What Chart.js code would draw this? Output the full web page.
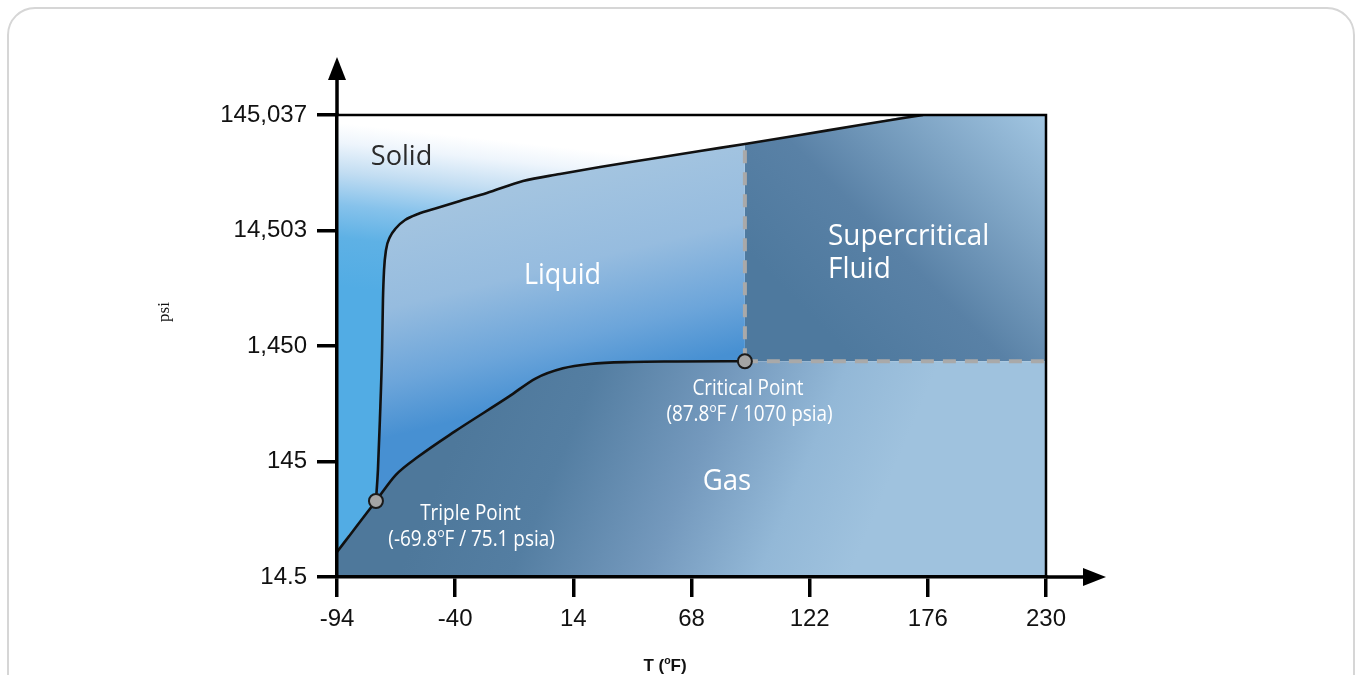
<!DOCTYPE html>
<html><head><meta charset="utf-8">
<script src="https://cdn.jsdelivr.net/npm/chart.js@4.4.1/dist/chart.umd.min.js"></script>
<style>
html,body{margin:0;padding:0;background:#fff;}
#wrap{position:relative;width:1359px;height:675px;overflow:hidden;}
#card{position:absolute;left:7px;top:7px;width:1348px;height:730px;border:2px solid #d6d6d6;border-radius:28px;box-sizing:border-box;}
#c{position:absolute;left:0;top:0;}
</style></head><body>
<div id="wrap"><div id="card"></div><canvas id="c" width="1359" height="675"></canvas></div>
<script>
// ---- axis ticks ----
const xTickValues = [-94, -40, 14, 68, 122, 176, 230];
const xTickLabels = ['-94', '-40', '14', '68', '122', '176', '230'];
const yTickValues = [14.5, 145, 1450, 14503, 145037];
const yTickLabels = ['14.5', '145', '1,450', '14,503', '145,037'];

// ---- phase boundaries (T in °F, P in psia) ----
const sublimationT = [-94, -85.3, -76.2];
const sublimationP = [23.9, 39.3, 66];
const meltingT = [-76.2, -75.3, -74.4, -73.4, -73.0, -72.5, -71.6, -69.8, -67.0, -62.9, -57.0, -48.3, -37.8, -25.5, -9.0, 7.9, 26.2, 49.0, 71.9, 92.4, 117.6, 145.0, 173.8];
const meltingP = [66, 122, 332, 1339, 3628, 6598, 9830, 12740, 15240, 17880, 20160, 22710, 26120, 30630, 38900, 44740, 51430, 60310, 70740, 81340, 97320, 118800, 145037];
const vaporT = [-76.2, -67.1, -56.8, -40.3, -15.5, -3.1, 9.3, 21.6, 40.4, 60.9, 92.4];
const vaporP = [66, 111, 160, 263, 528, 762, 930, 1013, 1055, 1065, 1070];
const pointNames = ['Triple Point', 'Critical Point'];
const pointT = [-76.2, 92.4];
const pointP = [66, 1070];

// ---- text annotations (data coordinates) ----
const annotations = [
  {text: 'Solid', T: -64.5, P: 53520, color: '#2b2b2b', size: 28, sx: 0.97, align: 'center'},
  {text: 'Liquid', T: 9.05, P: 4993, color: '#ffffff', size: 29, sx: 0.93, align: 'center'},
  {text: 'Supercritical', T: 130.4, P: 10860, color: '#ffffff', size: 30, sx: 0.93, align: 'left'},
  {text: 'Fluid', T: 130.4, P: 5625, color: '#ffffff', size: 30, sx: 0.93, align: 'left'},
  {text: 'Gas', T: 84.2, P: 82.2, color: '#ffffff', size: 30, sx: 0.92, align: 'center'},
  {text: 'Triple Point', T: -33.0, P: 45.2, color: '#ffffff', size: 21.5, sx: 0.88, align: 'center'},
  {text: '(-69.8°F / 75.1 psia)', T: -32.5, P: 26.9, color: '#ffffff', size: 21.5, sx: 0.88, align: 'center'},
  {text: 'Critical Point', T: 93.8, P: 546, color: '#ffffff', size: 21.5, sx: 0.88, align: 'center'},
  {text: '(87.8°F / 1070 psia)', T: 94.5, P: 325, color: '#ffffff', size: 21.5, sx: 0.88, align: 'center'}
];

const pts = (T, P) => T.map((t, i) => ({x: t, y: P[i]}));
const subl = pts(sublimationT, sublimationP);
const melt = pts(meltingT, meltingP);
const vap = pts(vaporT, vaporP);
const xMax = xTickValues[xTickValues.length - 1];
const yMax = yTickValues[yTickValues.length - 1];
const critT = pointT[1], critP = pointP[1];
const meltAtTc = meltingP[meltingT.indexOf(critT)];

const gasPath = subl.concat(vap.slice(1), [{x: xMax, y: critP}]);
const solidPath = subl.concat(melt.slice(1), [{x: xMax, y: yMax}]);
const scfBase = [{x: critT, y: critP}, {x: xMax, y: critP}];
const tcLine = [{x: critT, y: critP}, {x: critT, y: meltAtTc}];
const coexist = subl.concat(vap.slice(1));

function grad(ctx, fx0, fy0, fx1, fy1, stops) {
  const chart = ctx.chart; const a = chart.chartArea;
  if (!a) return 'rgba(0,0,0,0)';
  const g = chart.ctx.createLinearGradient(a.left + fx0 * (a.right - a.left), a.top + fy0 * (a.bottom - a.top),
                                           a.left + fx1 * (a.right - a.left), a.top + fy1 * (a.bottom - a.top));
  stops.forEach(s => g.addColorStop(s[0], s[1]));
  return g;
}
const NONE = 'rgba(0,0,0,0)';
const fillBase = {pointRadius: 0, borderColor: NONE, borderWidth: 0, cubicInterpolationMode: 'monotone'};

const datasets = [
  Object.assign({label: 'Gas', data: gasPath, fill: 'start', order: 6,
    backgroundColor: c => grad(c, 0.19, 0.62, 0.73, 0.97, [[0, '#4e789b'], [0.25, '#547ea2'], [0.55, '#7499bd'], [0.8, '#93b8d7'], [1, '#9fc2de']])}, fillBase),
  Object.assign({label: 'Liquid', data: vap, fill: 'end', order: 9,
    backgroundColor: c => grad(c, 0.37, 0.12, 0.44, 0.56, [[0, '#a3c4e0'], [0.4, '#96bcdf'], [0.75, '#6ca5da'], [1, '#4790d2']])}, fillBase),
  Object.assign({label: 'Supercritical Fluid', data: scfBase, fill: 'end', order: 8, tension: 0, cubicInterpolationMode: 'default',
    backgroundColor: c => grad(c, 0.69, 0.47, 1.0, 0.0, [[0, '#4e799e'], [0.35, '#5981a6'], [1, '#a2c6e2']])}, fillBase),
  Object.assign({label: 'Solid', data: solidPath, fill: 'end', order: 7,
    backgroundColor: c => grad(c, 0.08, 0.03, 0.055, 0.38, [[0, '#ffffff'], [0.12, '#eef5fc'], [0.3, '#c2ddf2'], [0.5, '#86c2eb'], [0.7, '#5eb1e5'], [1, '#52ace4']])}, fillBase),
  {label: 'Pc', data: scfBase, fill: false, order: 5, pointRadius: 0, tension: 0,
    borderColor: '#a9a9a9', borderWidth: 4, borderDash: [13, 9]},
  {label: 'Tc', data: tcLine, fill: false, order: 5, pointRadius: 0, tension: 0,
    borderColor: '#a9a9a9', borderWidth: 4, borderDash: [13, 9]},
  {label: 'Melting curve', data: melt, fill: false, order: 3, pointRadius: 0, cubicInterpolationMode: 'monotone',
    borderColor: '#111', borderWidth: 2.6},
  {label: 'Sublimation / vaporization curve', data: coexist, fill: false, order: 3, pointRadius: 0, cubicInterpolationMode: 'monotone',
    borderColor: '#111', borderWidth: 2.6},
  {label: 'Points', data: pts(pointT, pointP), showLine: false, fill: false, order: 0,
    pointRadius: 7, pointBackgroundColor: '#a4a4a4', pointBorderColor: '#1a1a1a', pointBorderWidth: 2}
];

function drawRich(ctx, text, x, y, o) {
  const parts = text.split('°');
  const fam = o.family || '"Open Sans", sans-serif';
  const w8 = o.weight || 'normal';
  const fMain = `${w8} ${o.size}px ${fam}`;
  const fSup = `${w8} ${(o.size * 0.62).toFixed(1)}px ${fam}`;
  const segs = [];
  parts.forEach((p, i) => {
    if (p) segs.push({t: p, f: fMain, dy: 0});
    if (i < parts.length - 1) segs.push({t: 'o', f: fSup, dy: -o.size * 0.4});
  });
  ctx.save();
  ctx.fillStyle = o.color; ctx.textBaseline = 'alphabetic'; ctx.textAlign = 'left';
  let w = 0;
  segs.forEach(s => { ctx.font = s.f; s.w = ctx.measureText(s.t).width; w += s.w; });
  const sx = o.sx || 1;
  const x0 = o.align === 'left' ? x : x - w * sx / 2;
  ctx.translate(x0, y); ctx.scale(sx, 1);
  let cx = 0;
  segs.forEach(s => { ctx.font = s.f; ctx.fillText(s.t, cx, s.dy); cx += s.w; });
  ctx.restore();
}

const decor = {
  id: 'decor',
  afterDatasetsDraw(chart) {
    const {ctx, chartArea: a, scales} = chart;
    ctx.save();
    ctx.strokeStyle = '#000'; ctx.lineWidth = 2.5;
    ctx.beginPath(); ctx.moveTo(a.left, a.top); ctx.lineTo(a.right, a.top); ctx.lineTo(a.right, a.bottom); ctx.stroke();
    ctx.restore();
    annotations.forEach(an => {
      drawRich(ctx, an.text, scales.x.getPixelForValue(an.T), scales.y.getPixelForValue(an.P), an);
    });
  },
  afterDraw(chart) {
    const {ctx, chartArea: a} = chart;
    ctx.save();
    ctx.strokeStyle = '#000'; ctx.fillStyle = '#000'; ctx.lineWidth = 3.5;
    ctx.beginPath(); ctx.moveTo(a.left, a.top); ctx.lineTo(a.left, a.top - 36); ctx.stroke();
    ctx.beginPath(); ctx.moveTo(a.left - 9, a.top - 35); ctx.lineTo(a.left + 9, a.top - 35); ctx.lineTo(a.left, a.top - 58); ctx.closePath(); ctx.fill();
    ctx.beginPath(); ctx.moveTo(a.right, a.bottom); ctx.lineTo(a.right + 38, a.bottom); ctx.stroke();
    ctx.beginPath(); ctx.moveTo(a.right + 37, a.bottom - 9); ctx.lineTo(a.right + 37, a.bottom + 9); ctx.lineTo(a.right + 60, a.bottom); ctx.closePath(); ctx.fill();
    ctx.restore();
    ctx.save();
    ctx.translate(a.left - 173, a.top + 197); ctx.rotate(-Math.PI / 2);
    drawRich(ctx, 'psi', 0, 5, {size: 17, family: '"Liberation Serif", serif', color: '#111', align: 'center'});
    ctx.restore();
    drawRich(ctx, 'T (°F)', a.left + 328, a.bottom + 94, {size: 17, weight: 'bold', family: '"Liberation Sans", Arial, sans-serif', color: '#111', align: 'center'});
  }
};

const tickFont = {family: '"Liberation Sans", Arial, sans-serif', size: 24};
new Chart(document.getElementById('c'), {
  type: 'line',
  data: {datasets},
  options: {
    responsive: false, animation: false, devicePixelRatio: 1,
    layout: {padding: {left: 0, right: 313, top: 115, bottom: 0}},
    plugins: {legend: {display: false}, tooltip: {enabled: false}},
    scales: {
      x: {
        type: 'linear', min: xTickValues[0], max: xMax,
        afterBuildTicks: s => { s.ticks = xTickValues.map(v => ({value: v})); },
        afterFit: s => { s.height = 98; },
        ticks: {autoSkip: false, maxRotation: 0, padding: 8, color: '#111', font: tickFont,
          callback: (v, i) => xTickLabels[i]},
        grid: {drawOnChartArea: false, drawTicks: true, tickLength: 20, lineWidth: 3.5, color: '#000'},
        border: {display: true, width: 3.5, color: '#000', z: 1}
      },
      y: {
        type: 'logarithmic', min: yTickValues[0], max: yMax,
        afterBuildTicks: s => { s.ticks = yTickValues.map(v => ({value: v})); },
        afterFit: s => { s.width = 337; },
        ticks: {autoSkip: false, padding: 10, color: '#111', font: tickFont,
          callback: (v, i) => yTickLabels[i]},
        grid: {drawOnChartArea: false, drawTicks: true, tickLength: 20, lineWidth: 3.5, color: '#000'},
        border: {display: true, width: 3.5, color: '#000', z: 1}
      }
    }
  },
  plugins: [decor]
});
</script>
</body></html>
